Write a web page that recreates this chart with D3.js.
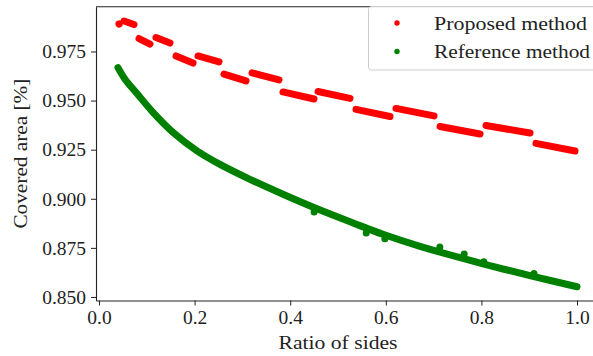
<!DOCTYPE html>
<html>
<head>
<meta charset="utf-8">
<script src="https://cdn.jsdelivr.net/npm/d3@7"></script>
<style>
  body { margin: 0; background: #fff; }
</style>
</head>
<body>
<div id="chart"></div>
<script>
// proposed method: scattered points forming short descending dashes [x0, y0, x1, y1]
const proposedDashes = [
    [0.0418, 0.9890, 0.0420, 0.9889],
    [0.0523, 0.9905, 0.0732, 0.9887],
    [0.0837, 0.9816, 0.1067, 0.9788],
    [0.1192, 0.9821, 0.1485, 0.9793],
    [0.1611, 0.9727, 0.1967, 0.9691],
    [0.2071, 0.9727, 0.2510, 0.9697],
    [0.2615, 0.9635, 0.3075, 0.9600],
    [0.3201, 0.9641, 0.3766, 0.9605],
    [0.3849, 0.9544, 0.4498, 0.9508],
    [0.4582, 0.9546, 0.5251, 0.9511],
    [0.5377, 0.9455, 0.6088, 0.9419],
    [0.6213, 0.9460, 0.7008, 0.9422],
    [0.7134, 0.9368, 0.7971, 0.9330],
    [0.8096, 0.9373, 0.9017, 0.9335],
    [0.9142, 0.9282, 0.9958, 0.9243]
];

// reference method: dense points along a smooth curve
const referenceX = [0.0397, 0.0544, 0.0795, 0.1130, 0.1548, 0.2050, 0.2531, 0.3159, 0.3849,
                    0.4561, 0.5314, 0.5941, 0.6715, 0.8033, 0.9079, 1.0000];
const referenceY = [0.9668, 0.9609, 0.9536, 0.9440, 0.9338, 0.9244, 0.9175, 0.9099, 0.9023,
                    0.8949, 0.8877, 0.8819, 0.8758, 0.8669, 0.8605, 0.8552];

// a few stray reference points off the curve
const referenceOutX = [0.450, 0.559, 0.598, 0.713, 0.764, 0.805, 0.910];
const referenceOutY = [0.8933, 0.8826, 0.8796, 0.8755, 0.8719, 0.8679, 0.8620];

const xTicks = [0.0, 0.2, 0.4, 0.6, 0.8, 1.0];
const yTicks = [0.850, 0.875, 0.900, 0.925, 0.950, 0.975];

const legendLabels = ['Proposed method', 'Reference method'];
const colors = ['#ff0000', '#008000'];

const width = 593;
const height = 356;
const serif = 'Liberation Serif';

const svg = d3.select('#chart')
    .append('svg')
    .attr('width', width)
    .attr('height', height)
    .attr('font-family', serif);

// plot area (right side runs off the picture, as in the original)
const plot = { left: 96, right: 600, top: 6.7, bottom: 300.5 };

const xScale = d3.scaleLinear()
    .domain([-0.00628, 1.0481])
    .range([plot.left, plot.right]);

const yScale = d3.scaleLinear()
    .domain([0.8482, 0.9978])
    .range([plot.bottom, plot.top]);

const markW = 7;

// reference curve
const refPoints = referenceX.map((x, i) => [x, referenceY[i]]);
const line = d3.line()
    .x(d => xScale(d[0]))
    .y(d => yScale(d[1]))
    .curve(d3.curveCatmullRom.alpha(0.5));

svg.append('path')
    .datum(refPoints)
    .attr('d', line)
    .attr('fill', 'none')
    .attr('stroke', colors[1])
    .attr('stroke-width', markW)
    .attr('stroke-linecap', 'round')
    .attr('stroke-linejoin', 'round');

svg.append('g')
    .selectAll('circle')
    .data(referenceOutX.map((x, i) => [x, referenceOutY[i]]))
    .enter()
    .append('circle')
    .attr('cx', d => xScale(d[0]))
    .attr('cy', d => yScale(d[1]))
    .attr('r', markW / 2)
    .attr('fill', colors[1]);

// proposed dashes
svg.append('g')
    .selectAll('line')
    .data(proposedDashes)
    .enter()
    .append('line')
    .attr('x1', d => xScale(d[0]))
    .attr('y1', d => yScale(d[1]))
    .attr('x2', d => xScale(d[2]))
    .attr('y2', d => yScale(d[3]))
    .attr('stroke', colors[0])
    .attr('stroke-width', markW)
    .attr('stroke-linecap', 'round');

// axes
const xAxis = d3.axisBottom(xScale)
    .tickValues(xTicks)
    .tickFormat(d3.format('.1f'))
    .tickSize(5)
    .tickSizeOuter(0)
    .tickPadding(5);

const yAxis = d3.axisLeft(yScale)
    .tickValues(yTicks)
    .tickFormat(d3.format('.3f'))
    .tickSize(5)
    .tickSizeOuter(0)
    .tickPadding(5);

const xAxisGroup = svg.append('g')
    .attr('transform', `translate(0,${plot.bottom})`)
    .call(xAxis);

const yAxisGroup = svg.append('g')
    .attr('transform', `translate(${plot.left},0)`)
    .call(yAxis);

[xAxisGroup, yAxisGroup].forEach(g => {
    g.attr('font-family', serif).attr('font-size', 19.5);
    g.selectAll('text')
        .attr('font-family', serif)
        .attr('font-size', 19.5)
        .attr('fill', '#222');
    g.selectAll('line').attr('stroke', '#222');
    g.select('.domain').attr('stroke', '#222').attr('stroke-width', 1.1);
});

// top spine
svg.append('line')
    .attr('x1', plot.left)
    .attr('x2', plot.right)
    .attr('y1', plot.top)
    .attr('y2', plot.top)
    .attr('stroke', '#222')
    .attr('stroke-width', 1.1);

// axis labels
svg.append('text')
    .attr('x', (xScale(0) + xScale(1)) / 2)
    .attr('y', 349)
    .attr('text-anchor', 'middle')
    .attr('font-family', serif)
    .attr('font-size', 19.5)
    .attr('fill', '#222')
    .attr('textLength', 119)
    .attr('lengthAdjust', 'spacingAndGlyphs')
    .text('Ratio of sides');

svg.append('text')
    .attr('transform', `translate(27,${(plot.top + plot.bottom) / 2}) rotate(-90)`)
    .attr('text-anchor', 'middle')
    .attr('font-family', serif)
    .attr('font-size', 19.5)
    .attr('fill', '#222')
    .attr('textLength', 150)
    .attr('lengthAdjust', 'spacingAndGlyphs')
    .text('Covered area [%]');

// legend
const legend = svg.append('g');

legend.append('rect')
    .attr('x', 368.5)
    .attr('y', 6.5)
    .attr('width', 240)
    .attr('height', 63.5)
    .attr('rx', 3)
    .attr('fill', '#fff')
    .attr('fill-opacity', 0.8)
    .attr('stroke', '#cccccc')
    .attr('stroke-width', 1);

const legendWidths = [153, 156];
legendLabels.forEach((label, i) => {
    const cy = 23 + i * 28.5;
    legend.append('circle')
        .attr('cx', 397)
        .attr('cy', cy)
        .attr('r', 2.7)
        .attr('fill', colors[i]);
    legend.append('text')
        .attr('x', 434)
        .attr('y', cy)
        .attr('dy', '0.35em')
        .attr('font-family', serif)
        .attr('font-size', 19.5)
        .attr('fill', '#222')
        .attr('textLength', legendWidths[i])
        .attr('lengthAdjust', 'spacingAndGlyphs')
        .text(label);
});
</script>
</body>
</html>
